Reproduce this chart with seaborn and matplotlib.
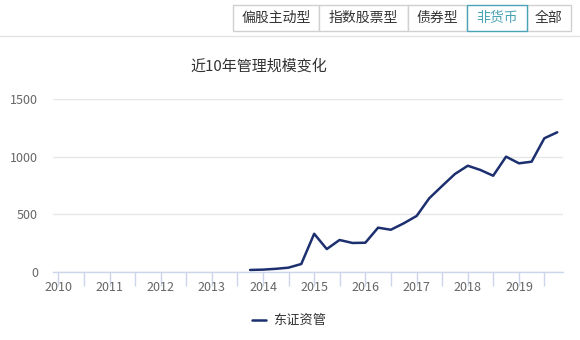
import matplotlib
matplotlib.use("Agg")
import matplotlib.pyplot as plt
import matplotlib.dates as mdates
from matplotlib.patches import Rectangle
from matplotlib.lines import Line2D
import seaborn as sns
import pandas as pd

sns.set_theme(style="white")
plt.rcParams['font.family'] = ['Noto Sans CJK SC', 'DejaVu Sans']

# ---- data ----
dates = pd.date_range("2013-09-30", "2019-09-30", freq="QE")
values = [15, 18, 25, 35, 67, 330, 197, 276, 250, 252, 383, 365, 421, 485,
          639, 745, 850, 922, 885, 835, 1001, 943, 957, 1161, 1213]
series_name = "东证资管"
title = "近10年管理规模变化"
buttons = ["偏股主动型", "指数股票型", "债券型", "非货币", "全部"]
selected = "非货币"
yticks = [0, 500, 1000, 1500]

df = pd.DataFrame({"date": dates, "value": values, "series": series_name})

W, H = 580, 340
fig = plt.figure(figsize=(W / 100, H / 100), dpi=100)
fig.patch.set_facecolor("white")

def fx(x):
    return x / W

def fy(y):
    return 1 - y / H

ax = fig.add_axes([fx(53.3), fy(271.7), fx(562.7) - fx(53.3), fy(99.3) - fy(271.7)])
line_color = "#1c2f6e"
sns.lineplot(data=df, x="date", y="value", ax=ax, color=line_color, linewidth=1.8, legend=False)

ax.set_ylim(0, 1500)
ax.set_xlim(pd.Timestamp("2009-11-26"), pd.Timestamp("2019-11-08"))
ax.set_yticks(yticks)
ax.set_yticklabels([str(v) for v in yticks])
ax.yaxis.grid(True, color="#e6e6e6", linewidth=1)
ax.xaxis.grid(False)
for s in ["top", "right", "left"]:
    ax.spines[s].set_visible(False)
ax.spines["bottom"].set_color("#ccd6eb")
ax.spines["bottom"].set_linewidth(1)
ax.set_xlabel("")
ax.set_ylabel("")

ax.xaxis.set_major_locator(mdates.MonthLocator(bymonth=[1, 7]))
def fmt(x, pos):
    d = mdates.num2date(x)
    return str(d.year) if d.month == 1 else ""
ax.xaxis.set_major_formatter(plt.FuncFormatter(fmt))
ax.tick_params(axis="x", direction="out", length=10, width=1, color="#ccd6eb",
               labelsize=9, labelcolor="#666666", pad=-3.5, bottom=True)
ax.tick_params(axis="y", length=0, labelsize=9, labelcolor="#666666", pad=11)

# title
fig.text(fx(258.5), fy(66.5), title, ha="center", va="center", fontsize=10.8, color="#333333")

# legend
fig.add_artist(Line2D([fx(251.5), fx(266)], [fy(320), fy(320)], color=line_color, linewidth=1.8))
fig.text(fx(273), fy(320), series_name, ha="left", va="center", fontsize=9.5, color="#333333")

# separator line
fig.add_artist(Line2D([0, 1], [fy(36), fy(36)], color="#e4e4e4", linewidth=1))

# buttons
edges = [233, 319, 408, 467, 527, 571]
for i, b in enumerate(buttons):
    x0, x1 = edges[i], edges[i + 1]
    sel = (b == selected)
    ec = "#4aa3b5" if sel else "#d0d0d0"
    tc = "#4aa3b5" if sel else "#333333"
    rect = Rectangle((fx(x0), fy(31)), fx(x1) - fx(x0), fy(5) - fy(31),
                     transform=fig.transFigure, facecolor="white",
                     edgecolor=ec, linewidth=1, zorder=3 if sel else 2)
    fig.add_artist(rect)
    fig.text(fx((x0 + x1) / 2), fy(18), b, ha="center", va="center",
             fontsize=10, color=tc, zorder=4)

fig.savefig("out.png", dpi=100, facecolor="white")
